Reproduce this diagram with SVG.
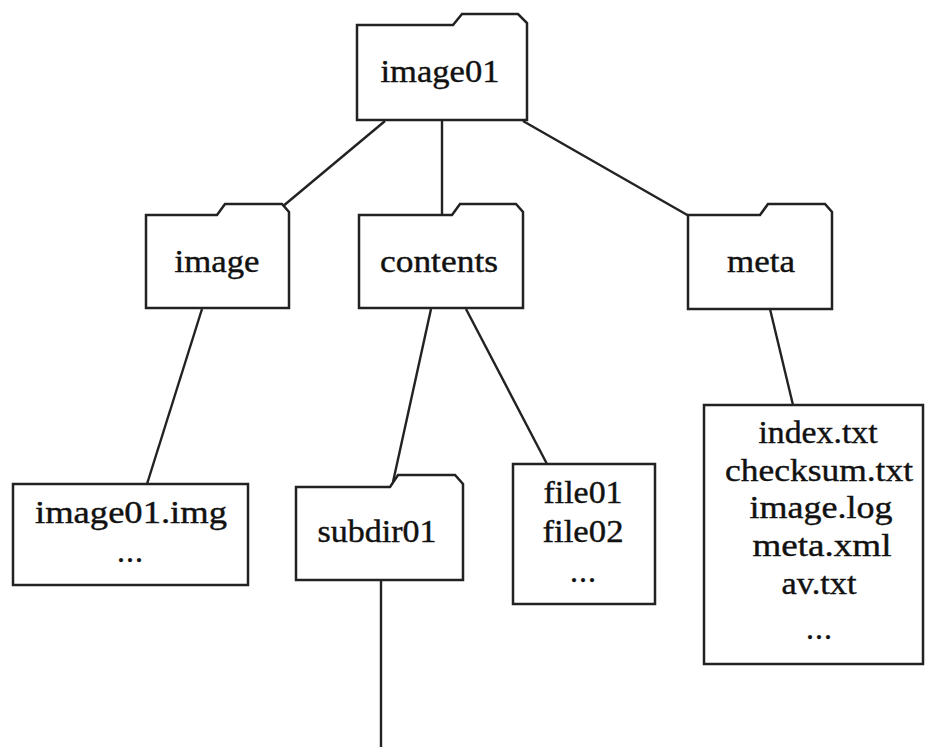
<svg xmlns="http://www.w3.org/2000/svg" width="925" height="747" viewBox="0 0 925 747">
<style>
.n{fill:#fff;stroke:#222;stroke-width:2.5;stroke-linejoin:miter}
.e{stroke:#222;stroke-width:2.4;fill:none}
text{font-family:"Liberation Serif","Times New Roman",serif;font-size:32px;fill:#111;stroke:#111;stroke-width:0.4;text-anchor:middle}
</style>
<rect width="925" height="747" fill="#fff"/>
<g id="connectors">
<line class="e" x1="385" y1="121" x2="282" y2="207"/>
<line class="e" x1="442" y1="121" x2="442" y2="215"/>
<line class="e" x1="523" y1="121" x2="689" y2="216"/>
<line class="e" x1="202" y1="309" x2="147" y2="484"/>
<line class="e" x1="431" y1="309" x2="393" y2="482"/>
<line class="e" x1="466" y1="309" x2="547" y2="464"/>
<line class="e" x1="770" y1="309" x2="793" y2="405"/>
<line class="e" x1="381" y1="581" x2="381" y2="747"/>
</g>
<g id="image01">
<path class="n" d="M357,25 L453,25 L462,14 L518,14 L527,23 L527,120 L357,120 Z"/>
<text x="440" y="82" textLength="119" lengthAdjust="spacingAndGlyphs">image01</text>
</g>
<g id="image">
<path class="n" d="M146,215 L217,215 L225,204 L282,204 L289,212 L289,308 L146,308 Z"/>
<text x="217" y="272" textLength="85" lengthAdjust="spacingAndGlyphs">image</text>
</g>
<g id="contents">
<path class="n" d="M359,215 L452,215 L460,204 L516,204 L523,212 L523,308 L359,308 Z"/>
<text x="439" y="272" textLength="118" lengthAdjust="spacingAndGlyphs">contents</text>
</g>
<g id="meta">
<path class="n" d="M688,215 L760,215 L768,204 L825,204 L832,212 L832,309 L688,309 Z"/>
<text x="761" y="272" textLength="68" lengthAdjust="spacingAndGlyphs">meta</text>
</g>
<g id="imagefiles">
<rect class="n" x="13" y="484" width="235" height="101"/>
<text x="131" y="523" textLength="192" lengthAdjust="spacingAndGlyphs">image01.img</text>
<text x="130" y="562" textLength="26" lengthAdjust="spacing">...</text>
</g>
<g id="subdir01">
<path class="n" d="M296,487 L390,487 L398,475 L455,475 L463,484 L463,580 L296,580 Z"/>
<text x="377" y="542" textLength="119" lengthAdjust="spacingAndGlyphs">subdir01</text>
</g>
<g id="files">
<rect class="n" x="513" y="464" width="142" height="140"/>
<text x="583" y="503" textLength="79" lengthAdjust="spacingAndGlyphs">file01</text>
<text x="583" y="542" textLength="81" lengthAdjust="spacingAndGlyphs">file02</text>
<text x="583" y="582" textLength="26" lengthAdjust="spacing">...</text>
</g>
<g id="metafiles">
<rect class="n" x="704" y="405" width="219" height="259"/>
<text x="818" y="443" textLength="119" lengthAdjust="spacingAndGlyphs">index.txt</text>
<text x="819" y="481" textLength="188" lengthAdjust="spacingAndGlyphs">checksum.txt</text>
<text x="821" y="518" textLength="143" lengthAdjust="spacingAndGlyphs">image.log</text>
<text x="822" y="556" textLength="139" lengthAdjust="spacingAndGlyphs">meta.xml</text>
<text x="819" y="594" textLength="75" lengthAdjust="spacingAndGlyphs">av.txt</text>
<text x="819" y="639" textLength="26" lengthAdjust="spacing">...</text>
</g>
</svg>
